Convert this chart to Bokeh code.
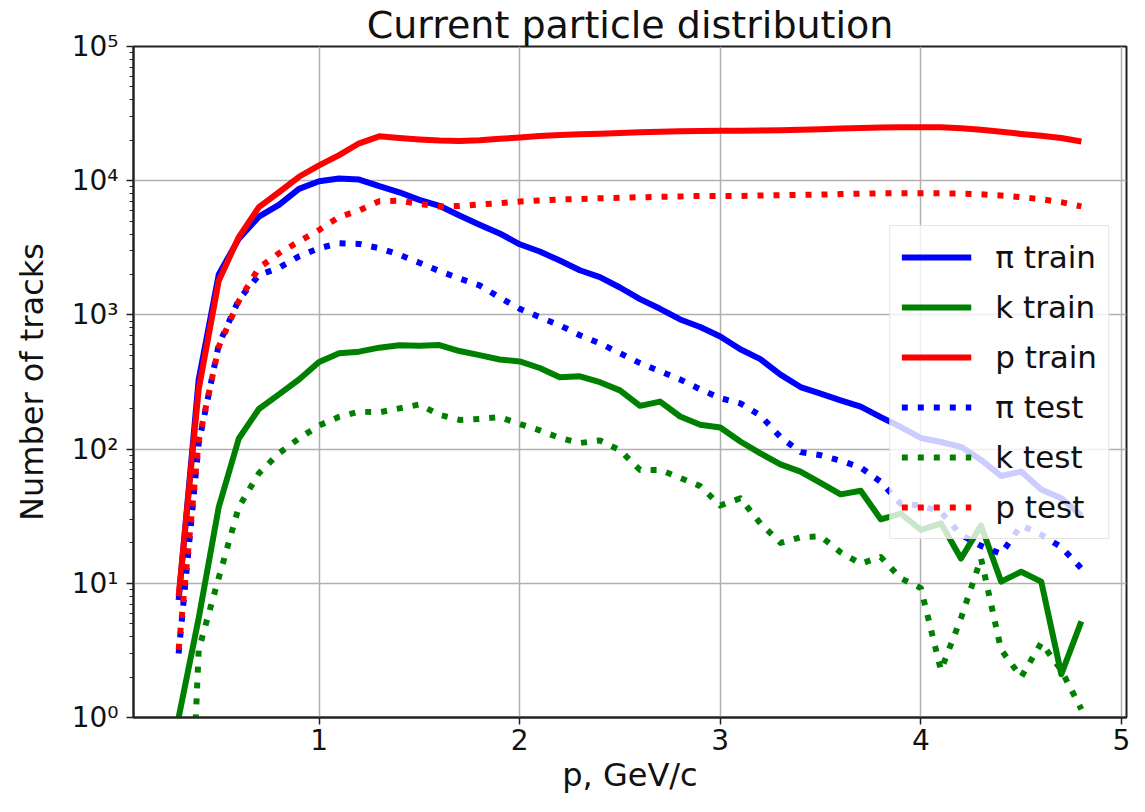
from bokeh.plotting import figure
from bokeh.models import Range1d, Legend, LegendItem, FixedTicker
from bokeh.embed import file_html
from bokeh.resources import INLINE

# momentum bins (GeV/c)
p_values = [0.3, 0.4, 0.5, 0.6, 0.7, 0.8, 0.9, 1.0,
            1.1, 1.2, 1.3, 1.4, 1.5, 1.6, 1.7, 1.8, 1.9, 2.0,
            2.1, 2.2, 2.3, 2.4, 2.5, 2.6, 2.7, 2.8, 2.9, 3.0,
            3.1, 3.2, 3.3, 3.4, 3.5, 3.6, 3.7, 3.8, 3.9, 4.0,
            4.1, 4.2, 4.3, 4.4, 4.5, 4.6, 4.7, 4.8]

pi_train = [7.5, 330, 2000, 3700, 5400, 6600, 8700, 9900,
            10400, 10200, 9100, 8200, 7200, 6500, 5500, 4700, 4050, 3360,
            2970, 2540, 2150, 1910, 1600, 1310, 1110, 925, 813, 690,
            555, 468, 359, 290, 259, 231, 207, 173, 146, 121,
            113, 104, 83, 63, 68, 50, 43, 32]

k_train = [1.0, 5.5, 37, 120, 199, 256, 330, 445,
           518, 532, 570, 595, 590, 596, 538, 501, 465, 450,
           402, 343, 349, 315, 274, 210, 226, 175, 152, 145,
           114, 93, 77, 68, 56, 46, 49, 30, 33, 25,
           28, 15.3, 27, 10.3, 12.2, 10.3, 2.1, 5.2]

p_train = [8, 280, 1800, 3800, 6350, 8200, 10700, 13000,
           15500, 19000, 21400, 20800, 20300, 19900, 19800, 20000, 20500, 21000,
           21500, 21900, 22200, 22400, 22700, 23000, 23200, 23400, 23500, 23600,
           23600, 23700, 23800, 24000, 24200, 24500, 24700, 24900, 25000, 25000,
           25000, 24600, 24000, 23200, 22300, 21600, 20800, 19600]

pi_test = [3.0, 110, 600, 1300, 1980, 2240, 2730, 3140,
           3420, 3380, 3140, 2810, 2450, 2120, 1870, 1660, 1350, 1110,
           962, 836, 706, 614, 518, 437, 380, 330, 279, 240,
           219, 178, 123, 95, 90, 82, 73, 57, 39, 38,
           34, 23, 19, 16.6, 27, 23, 18.6, 12.9]

k_test = [0.001, 3.2, 11, 37, 66, 93, 120, 150,
          174, 190, 188, 201, 215, 180, 165, 168, 173, 154,
          138, 121, 111, 116, 98, 70, 70, 61, 53, 38,
          43, 28, 20, 22, 22.4, 17, 14, 15.7, 10.9, 9.2,
          2.25, 5.5, 15.3, 3.2, 2.0, 3.6, 2.25, 1.15]

p_test = [3.2, 115, 580, 1270, 2240, 2880, 3520, 4290,
          5370, 6000, 7030, 7100, 6700, 6430, 6480, 6650, 6800, 7000,
          7120, 7240, 7310, 7400, 7450, 7530, 7580, 7630, 7700, 7700,
          7700, 7750, 7790, 7850, 7880, 7950, 8000, 8050, 8050, 8050,
          8050, 8000, 7920, 7750, 7530, 7280, 6920, 6430]

series_names = ["π train", "k train", "p train", "π test", "k test", "p test"]
series_data = [pi_train, k_train, p_train, pi_test, k_test, p_test]
series_colors = ["#0000ff", "#008000", "#ff0000", "#0000ff", "#008000", "#ff0000"]
series_dashes = ["solid", "solid", "solid", "6 10", "6 10", "6 10"]

FONT = "DejaVu Sans"

p = figure(width=1137, height=796, y_axis_type="log",
           x_range=Range1d(0.075, 5.025), y_range=Range1d(1, 1e5),
           output_backend="svg", toolbar_location=None,
           title="Current particle distribution",
           min_border_left=133, min_border_right=11,
           min_border_top=44, min_border_bottom=76)

p.background_fill_color = "white"
p.border_fill_color = "white"
p.outline_line_color = "#222222"
p.outline_line_width = 2

p.title.text_font = FONT
p.title.text_font_size = "38px"
p.title.text_font_style = "normal"
p.title.text_color = "#111111"
p.title.align = "center"
p.title.standoff = 0

items = []
for name, ys, col, dash in zip(series_names, series_data, series_colors, series_dashes):
    r = p.line(p_values, ys, line_color=col, line_width=6, line_dash=dash,
               line_cap="butt", line_join="round")
    items.append(LegendItem(label=name, renderers=[r]))

legend = Legend(items=items, location="right", margin=17)
legend.label_text_font = FONT
legend.label_text_font_size = "31px"
legend.label_text_color = "#111111"
legend.glyph_width = 70
legend.glyph_height = 40
legend.label_height = 40
legend.spacing = 10
legend.padding = 11
legend.label_standoff = 24
legend.border_line_color = "#cccccc"
legend.border_line_width = 1.5
legend.background_fill_color = "white"
legend.background_fill_alpha = 0.8
p.add_layout(legend)

p.xaxis.ticker = FixedTicker(ticks=[1, 2, 3, 4, 5])
decades = [1, 10, 100, 1000, 10000, 100000]
minor = [m * d for d in decades[:-1] for m in range(2, 10)]
p.yaxis.ticker = FixedTicker(ticks=decades, minor_ticks=minor)
p.yaxis.major_label_overrides = {1: "10⁰", 10: "10¹", 100: "10²", 1000: "10³",
                                 10000: "10⁴", 100000: "10⁵"}

for ax in [p.xaxis[0], p.yaxis[0]]:
    ax.axis_line_color = "#222222"
    ax.axis_line_width = 2
    ax.major_tick_line_color = "#222222"
    ax.major_tick_line_width = 1.5
    ax.major_tick_in = 0
    ax.major_tick_out = 7
    ax.minor_tick_line_color = "#222222"
    ax.minor_tick_line_width = 1.2
    ax.minor_tick_in = 0
    ax.minor_tick_out = 4
    ax.major_label_text_font = FONT
    ax.major_label_text_font_size = "28px"
    ax.major_label_text_color = "#111111"
    ax.axis_label_text_font = FONT
    ax.axis_label_text_font_size = "32px"
    ax.axis_label_text_font_style = "normal"
    ax.axis_label_text_color = "#111111"

p.xaxis.axis_label = "p, GeV/c"
p.yaxis.axis_label = "Number of tracks"
p.xaxis.major_label_standoff = 4
p.xaxis.axis_label_standoff = 3
p.yaxis.major_label_standoff = 8
p.yaxis.axis_label_standoff = 18

p.xgrid.grid_line_color = "#b0b0b0"
p.xgrid.grid_line_width = 1.5
p.ygrid.grid_line_color = "#b0b0b0"
p.ygrid.grid_line_width = 1.5

open("out.html", "w").write(file_html(p, INLINE))
